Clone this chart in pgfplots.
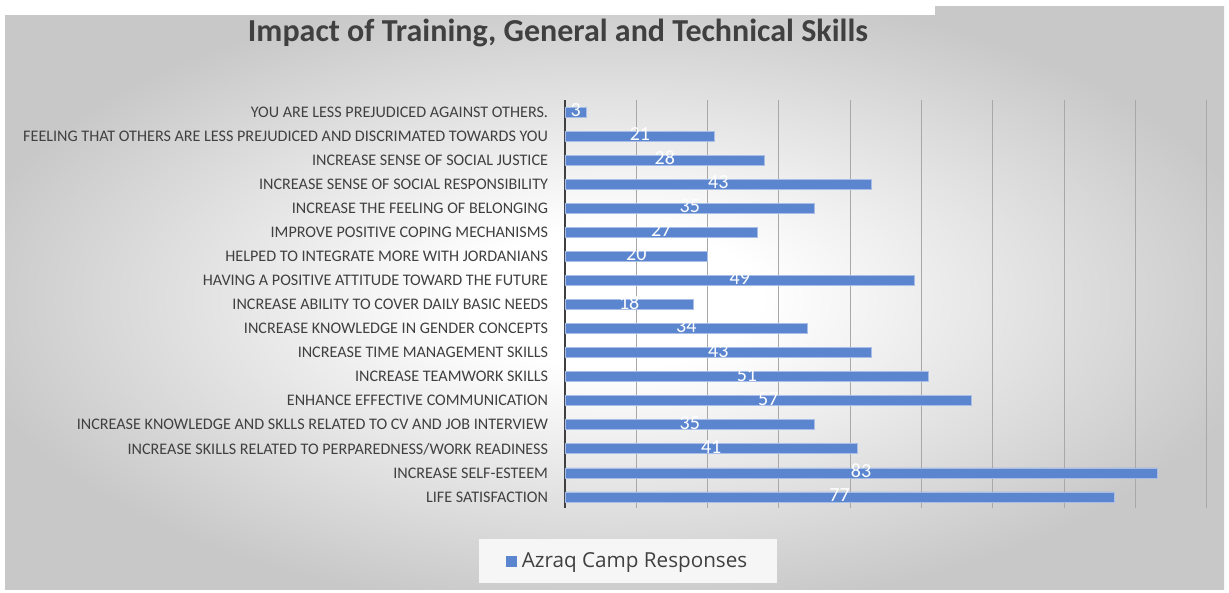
\documentclass[border=0pt]{standalone}
\usepackage{pgfplots}
\pgfplotsset{compat=1.18}
\usepackage{pgfplotstable}
\usepackage{fontspec}
\setmainfont{Carlito}
\newfontfamily\legfont{Open Sans}
\definecolor{barblue}{HTML}{5B86CF}
\definecolor{baredge}{HTML}{A9BEE6}
\definecolor{txt}{HTML}{404040}
\definecolor{bggray}{HTML}{C8C8C8}
\definecolor{gridc}{HTML}{A8A8A8}
\definecolor{legbg}{HTML}{F6F6F6}
\pgfdeclareradialshading{bgshade}{\pgfpoint{0bp}{0bp}}{color(0bp)=(white); color(6bp)=(white); color(27bp)=(bggray); color(50bp)=(bggray)}

\pgfplotstableread{
idx v
0 77
1 83
2 41
3 35
4 57
5 51
6 43
7 34
8 18
9 49
10 20
11 27
12 35
13 43
14 28
15 21
16 3
}\datatable

\begin{document}
\begin{tikzpicture}
\begin{scope}[x=0.75pt,y=0.75pt]
\fill[white] (0,0) rectangle (1229,593);
\shade[shading=bgshade] (5,3) rectangle (1224,586);
\fill[white] (0,578) rectangle (935,593);
\node[font=\bfseries\fontsize{24}{28}\selectfont, text=txt] at (558,560) {Impact of Training, General and Technical Skills};
\end{scope}
\begin{axis}[
  at={(423.75pt,63.75pt)}, anchor=south west,
  scale only axis, width=481.5pt, height=306pt,
  xmin=0, xmax=90, ymin=-0.46, ymax=16.5,
  axis lines*=left,
  x axis line style={draw=none},
  y axis line style={draw=txt, line width=2pt},
  xtick={0,10,...,90}, xticklabels={},
  xmajorgrids, grid style={gridc, line width=0.75pt},
  major tick length=0pt,
  ytick={0,...,16},
  yticklabels={
    {LIFE SATISFACTION},
    {INCREASE SELF-ESTEEM},
    {INCREASE SKILLS RELATED TO PERPAREDNESS/WORK READINESS},
    {INCREASE KNOWLEDGE AND SKLLS RELATED TO CV AND JOB INTERVIEW},
    {ENHANCE EFFECTIVE COMMUNICATION},
    {INCREASE TEAMWORK SKILLS},
    {INCREASE TIME MANAGEMENT SKILLS\ },
    {INCREASE KNOWLEDGE IN GENDER CONCEPTS},
    {INCREASE ABILITY TO COVER DAILY BASIC NEEDS},
    {HAVING A POSITIVE ATTITUDE TOWARD THE FUTURE},
    {HELPED TO INTEGRATE MORE WITH JORDANIANS},
    {IMPROVE POSITIVE COPING MECHANISMS},
    {INCREASE THE FEELING OF BELONGING},
    {INCREASE SENSE OF SOCIAL RESPONSIBILITY},
    {INCREASE SENSE OF SOCIAL JUSTICE\ },
    {FEELING THAT OTHERS ARE LESS PREJUDICED AND DISCRIMATED TOWARDS YOU},
    {YOU ARE LESS PREJUDICED AGAINST OTHERS.}
  },
  yticklabel style={font=\fontsize{12.1}{14}\selectfont, text=txt, anchor=east, inner sep=0pt, xshift=-12.5pt},
  /pgf/number format/assume math mode=true,
  legend style={at={(axis description cs:0.098,-0.13)}, anchor=center, draw=none, fill=legbg,
    font=\legfont\fontsize{15.5}{17}\selectfont, text=txt, inner xsep=20pt, inner ysep=8pt},
  legend image code/.code={\fill[barblue] (0pt,-3.9pt) rectangle (7.8pt,3.9pt); \path (9.5pt,0pt);},
]
\addplot[xbar, bar width=7.5pt, fill=barblue, draw=baredge, line width=0.5pt] table[x=v, y=idx]{\datatable};
\addlegendentry{Azraq Camp Responses}
\addplot[forget plot, draw=none, mark=none, nodes near coords, point meta=\thisrow{v},
  nodes near coords style={anchor=center, text=white, font=\fontsize{15}{17}\selectfont, yshift=1.5pt}]
  table[x expr=\thisrow{v}/2, y=idx]{\datatable};
\end{axis}
\end{tikzpicture}
\end{document}
